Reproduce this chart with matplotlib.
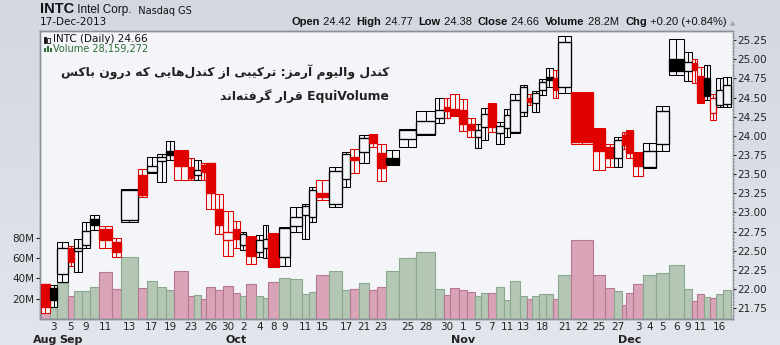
import numpy as np
import matplotlib
matplotlib.use('Agg')
import matplotlib.pyplot as plt
from matplotlib.patches import Rectangle

# Data (INTC daily, CandleVolume)
#------------------------------------------------
dates = ['2013-08-30',
         '2013-09-03', '2013-09-04', '2013-09-05', '2013-09-06', '2013-09-09', '2013-09-10',
         '2013-09-11', '2013-09-12', '2013-09-13', '2013-09-16', '2013-09-17', '2013-09-18',
         '2013-09-19', '2013-09-20', '2013-09-23', '2013-09-24', '2013-09-25', '2013-09-26',
         '2013-09-27', '2013-09-30',
         '2013-10-01', '2013-10-02', '2013-10-03', '2013-10-04', '2013-10-07', '2013-10-08',
         '2013-10-09', '2013-10-10', '2013-10-11', '2013-10-14', '2013-10-15', '2013-10-16',
         '2013-10-17', '2013-10-18', '2013-10-21', '2013-10-22', '2013-10-23', '2013-10-24',
         '2013-10-25', '2013-10-28', '2013-10-29', '2013-10-30', '2013-10-31',
         '2013-11-01', '2013-11-04', '2013-11-05', '2013-11-06', '2013-11-07', '2013-11-08',
         '2013-11-11', '2013-11-12', '2013-11-13', '2013-11-14', '2013-11-15', '2013-11-18',
         '2013-11-19', '2013-11-20', '2013-11-21', '2013-11-22', '2013-11-25', '2013-11-26',
         '2013-11-27', '2013-11-29',
         '2013-12-02', '2013-12-03', '2013-12-04', '2013-12-05', '2013-12-06', '2013-12-09',
         '2013-12-10', '2013-12-11', '2013-12-12', '2013-12-13', '2013-12-16', '2013-12-17']

opens = [22.06,
         22.02, 22.20, 22.53, 22.50, 22.57, 22.91, 22.78, 22.62, 22.90, 23.49, 23.53, 23.67,
         23.80, 23.80, 23.59, 23.49, 23.62, 23.64, 23.05, 22.64,
         22.79, 22.57, 22.68, 22.48, 22.53, 22.72, 22.42, 22.82, 22.97, 22.94, 23.26, 23.11,
         23.44, 23.73, 23.79, 24.01, 23.77, 23.71, 23.96, 24.02, 24.23, 24.37, 24.35,
         24.34, 24.15, 23.98, 24.12, 24.42, 24.04, 24.10, 24.05, 24.31, 24.49, 24.43, 24.60,
         24.77, 24.75, 24.64, 24.56, 24.09, 23.86, 23.71, 24.01,
         24.06, 23.77, 23.59, 23.89, 25.00, 24.84, 24.95, 24.78, 24.75, 24.30, 24.40, 24.42]

highs = [22.07,
         22.05, 22.61, 22.56, 22.66, 22.87, 22.97, 22.82, 22.67, 23.31, 23.57, 23.73, 23.76,
         23.93, 23.81, 23.71, 23.69, 23.65, 23.65, 23.24, 23.02,
         22.89, 22.74, 22.69, 22.70, 22.84, 22.73, 22.81, 23.07, 23.11, 23.33, 23.43, 23.59,
         23.79, 23.83, 24.01, 24.03, 23.89, 23.81, 24.09, 24.32, 24.49, 24.49, 24.54,
         24.48, 24.23, 24.16, 24.36, 24.43, 24.18, 24.35, 24.54, 24.66, 24.54, 24.59, 24.74,
         24.89, 24.86, 25.30, 24.57, 24.10, 23.90, 23.98, 24.05,
         24.07, 23.79, 23.91, 24.39, 25.26, 25.09, 25.00, 24.90, 24.92, 24.54, 24.75, 24.77]

lows = [21.69,
        21.76, 22.09, 22.30, 22.22, 22.53, 22.77, 22.54, 22.42, 22.88, 23.20, 23.51, 23.40,
        23.68, 23.42, 23.43, 23.43, 23.43, 23.04, 22.72, 22.43,
        22.53, 22.51, 22.33, 22.42, 22.40, 22.29, 22.30, 22.75, 22.66, 22.87, 23.16, 23.07,
        23.33, 23.52, 23.65, 23.85, 23.41, 23.62, 23.86, 24.01, 24.17, 24.23, 24.26,
        24.06, 23.99, 23.84, 23.95, 24.05, 23.90, 23.99, 24.04, 24.26, 24.40, 24.31, 24.53,
        24.64, 24.50, 24.56, 23.90, 23.56, 23.59, 23.59, 23.83,
        23.71, 23.47, 23.58, 23.80, 24.79, 24.72, 24.69, 24.43, 24.47, 24.21, 24.38, 24.38]

closes = [21.77,
          21.86, 22.53, 22.35, 22.53, 22.76, 22.83, 22.64, 22.49, 23.29, 23.23, 23.61, 23.72,
          23.75, 23.60, 23.45, 23.55, 23.53, 23.25, 22.83, 22.74,
          22.66, 22.72, 22.43, 22.64, 22.66, 22.30, 22.80, 22.94, 23.08, 23.29, 23.20, 23.54,
          23.76, 23.68, 23.97, 23.91, 23.58, 23.63, 24.08, 24.19, 24.34, 24.32, 24.27,
          24.15, 24.07, 24.08, 24.29, 24.12, 24.13, 24.27, 24.47, 24.64, 24.44, 24.56, 24.70,
          24.73, 24.60, 25.23, 23.92, 23.80, 23.71, 23.95, 23.88,
          23.77, 23.60, 23.80, 24.32, 24.85, 24.97, 24.86, 24.44, 24.52, 24.49, 24.60, 24.66]

# daily volume, millions of shares
volumes = [34.0,
           24.0, 35.8, 22.7, 27.6, 27.6, 31.2, 46.3, 29.2, 60.8, 30.2, 37.0, 31.2,
           28.2, 47.0, 22.3, 23.3, 19.4, 31.2, 28.2, 32.2,
           25.3, 22.3, 34.2, 22.3, 20.4, 36.5, 40.0, 39.0, 24.3, 26.3, 43.3, 47.0,
           28.2, 29.2, 35.2, 28.2, 31.2, 47.2, 59.8, 65.7, 29.2, 23.3, 30.2,
           28.2, 26.3, 22.3, 25.3, 25.3, 31.2, 18.4, 37.1, 22.5, 19.4, 22.3, 24.3,
           24.3, 19.4, 43.3, 77.5, 43.3, 30.2, 27.6, 13.5,
           25.6, 34.5, 43.3, 45.3, 53.2, 29.2, 17.7, 24.3, 21.4, 20.4, 24.3, 28.2]

prev_close_aug29 = 22.10

# day labels that are printed under the volume bars
tick_dates = ['2013-09-03', '2013-09-05', '2013-09-09', '2013-09-11', '2013-09-13', '2013-09-17',
              '2013-09-19', '2013-09-23', '2013-09-26', '2013-09-30', '2013-10-02', '2013-10-04',
              '2013-10-08', '2013-10-09', '2013-10-11', '2013-10-15', '2013-10-17', '2013-10-21',
              '2013-10-23', '2013-10-25', '2013-10-28', '2013-10-30', '2013-11-01', '2013-11-05',
              '2013-11-07', '2013-11-11', '2013-11-13', '2013-11-18', '2013-11-21', '2013-11-22',
              '2013-11-25', '2013-11-27', '2013-12-03', '2013-12-04', '2013-12-05', '2013-12-06',
              '2013-12-09', '2013-12-11', '2013-12-16']
month_labels = ['Aug', 'Sep', 'Oct', 'Nov', 'Dec']
month_dates = ['2013-08-30', '2013-09-05', '2013-10-01', '2013-11-01', '2013-12-02']

price_ticks = [21.75, 22.00, 22.25, 22.50, 22.75, 23.00, 23.25, 23.50, 23.75,
               24.00, 24.25, 24.50, 24.75, 25.00, 25.25]
vol_ticks = [20, 40, 60, 80]

title_fa_1 = 'کندل والیوم آرمز: ترکیبی از کندل\u200cهایی که درون باکس'
title_fa_2 = 'قرار گرفته\u200cاند'
title_en_2 = 'EquiVolume'
#------------------------------------------------

# minimal Persian shaping (matplotlib has no bidi / joining support)
forms = {
    '\u0627': ('\uFE8D', '\uFE8E', None, None),
    '\u0622': ('\uFE81', '\uFE82', None, None),
    '\u0628': ('\uFE8F', '\uFE90', '\uFE91', '\uFE92'),
    '\u062A': ('\uFE95', '\uFE96', '\uFE97', '\uFE98'),
    '\u062F': ('\uFEA9', '\uFEAA', None, None),
    '\u0631': ('\uFEAD', '\uFEAE', None, None),
    '\u0632': ('\uFEAF', '\uFEB0', None, None),
    '\u0633': ('\uFEB1', '\uFEB2', '\uFEB3', '\uFEB4'),
    '\u0641': ('\uFED1', '\uFED2', '\uFED3', '\uFED4'),
    '\u0642': ('\uFED5', '\uFED6', '\uFED7', '\uFED8'),
    '\u0644': ('\uFEDD', '\uFEDE', '\uFEDF', '\uFEE0'),
    '\u0645': ('\uFEE1', '\uFEE2', '\uFEE3', '\uFEE4'),
    '\u0646': ('\uFEE5', '\uFEE6', '\uFEE7', '\uFEE8'),
    '\u0647': ('\uFEE9', '\uFEEA', '\uFEEB', '\uFEEC'),
    '\u0648': ('\uFEED', '\uFEEE', None, None),
    '\u06A9': ('\uFB8E', '\uFB8F', '\uFB90', '\uFB91'),
    '\u06AF': ('\uFB92', '\uFB93', '\uFB94', '\uFB95'),
    '\u06CC': ('\uFBFC', '\uFBFD', '\uFBFE', '\uFBFF'),
}


def shape_fa(s):
    out = []
    for i, ch in enumerate(s):
        if ch not in forms:
            out.append(ch)
            continue
        iso, fin, ini, med = forms[ch]
        prev = s[i - 1] if i > 0 else ''
        nxt = s[i + 1] if i + 1 < len(s) else ''
        jp = prev in forms and forms[prev][2] is not None
        jn = nxt in forms and ini is not None
        if jp and jn:
            out.append(med)
        elif jp:
            out.append(fin)
        elif jn:
            out.append(ini)
        else:
            out.append(iso)
    return ''.join(ch for ch in out if ch != '\u200c')[::-1]


# colours
RED = '#e00000'
BLACK = '#000000'
PLOT_BG = '#f4f5f9'
VOL_UP, VOL_UP_EDGE = '#b3c7b4', '#8ba78d'
VOL_DN, VOL_DN_EDGE = '#d9a4b8', '#b57a92'
LW = 0.75

o = np.array(opens); h = np.array(highs); l = np.array(lows)
c = np.array(closes); v = np.array(volumes)
prev_c = np.concatenate([[prev_close_aug29], c[:-1]])
left = np.concatenate([[0], np.cumsum(v)[:-1]])
centers = left + v / 2
idx = {d: i for i, d in enumerate(dates)}

fig = plt.figure(figsize=(7.8, 3.45), dpi=100)

# grey gradient backdrop
bg = fig.add_axes([0, 0, 1, 1], zorder=-10)
grad = np.linspace(0, 1, 256).reshape(-1, 1)
bg.imshow(grad, aspect='auto', cmap=matplotlib.colors.LinearSegmentedColormap.from_list(
    'g', ['#e2e5ec', '#d3d7e0']), extent=[0, 1, 0, 1], origin='lower')
bg.axis('off')

ax_v = fig.add_axes([0.0515, 0.0755, 0.888, 0.835])
ax_v.set_facecolor(PLOT_BG)
ax_p = ax_v.twinx()

# volume bars
up = c >= prev_c
ax_v.bar(left, v, width=v, align='edge',
         color=np.where(up, VOL_UP, VOL_DN),
         edgecolor=np.where(up, VOL_UP_EDGE, VOL_DN_EDGE), linewidth=0.8, zorder=2)
ax_v.set_ylim(0, 284)
ax_v.set_xlim(-1.5, left[-1] + v[-1] + 5)

# candles: box = high/low range, centre line = wick, body = open/close
for i in range(len(dates)):
    col = RED if c[i] < prev_c[i] else BLACK
    filled = c[i] < o[i]
    ax_p.add_patch(Rectangle((left[i], l[i]), v[i], h[i] - l[i], facecolor=PLOT_BG,
                             edgecolor=col, linewidth=LW, zorder=3))
    ax_p.vlines(centers[i], l[i], h[i], color=col, linewidth=LW, zorder=4)
    lo, hi = min(o[i], c[i]), max(o[i], c[i])
    ax_p.add_patch(Rectangle((left[i], lo), v[i], max(hi - lo, 0.006),
                             facecolor=col if filled else PLOT_BG,
                             edgecolor=col, linewidth=LW + 0.2, zorder=5))
ax_p.set_ylim(21.61, 25.37)

# axes styling
ax_p.set_yticks(price_ticks)
ax_p.set_yticklabels(['%.2f' % p for p in price_ticks])
ax_p.tick_params(axis='y', length=2, pad=1, labelsize=7.5, colors='#222222')
ax_v.set_yticks(vol_ticks)
ax_v.set_yticklabels(['%dM' % t for t in vol_ticks])
ax_v.tick_params(axis='y', length=3, pad=1, labelsize=7.5, colors='#222222')
ax_v.set_xticks([centers[idx[d]] for d in tick_dates])
ax_v.set_xticklabels([str(int(d[-2:])) for d in tick_dates])
ax_v.tick_params(axis='x', length=0, pad=2, labelsize=7.5, colors='#222222')
for lab, d in zip(month_labels, month_dates):
    ax_v.text(centers[idx[d]], -0.055, lab, transform=ax_v.get_xaxis_transform(),
              ha='center', va='top', fontsize=8, fontweight='bold', color='#222222')
for a in (ax_v, ax_p):
    for s in a.spines.values():
        s.set_color('#8a8f99')
        s.set_linewidth(1.0)
    a.spines['right'].set_linestyle((0, (1, 1.5)))

# header
hfont = 'Liberation Sans'
t = fig.text(40 / 780, 1 - 16 / 345, 'INTC', fontsize=10.5, fontweight='bold',
             family=hfont, va='bottom', color='#111111')
t = ax_v.annotate(' Intel Corp.', xy=(1, 0), xycoords=t, va='bottom', fontsize=8.5,
                  family=hfont, color='#111111', annotation_clip=False)
ax_v.annotate('  Nasdaq GS', xy=(1, 0), xycoords=t, va='bottom', fontsize=7,
              family='DejaVu Sans', color='#111111', annotation_clip=False)
fig.text(40 / 780, 1 - 27 / 345, '17-Dec-2013', fontsize=7.5, family='DejaVu Sans',
         va='bottom', color='#111111')

parts = [('Open', True), (' 24.42  ', False), ('High', True), (' 24.77  ', False),
         ('Low', True), (' 24.38  ', False), ('Close', True), (' 24.66  ', False),
         ('Volume', True), (' 28.2M  ', False), ('Chg', True), (' +0.20 (+0.84%) ', False)]
t = fig.text(291 / 780, 1 - 27 / 345, parts[0][0], fontsize=8, fontweight='bold',
             family=hfont, va='bottom', color='#111111')
for txt, bold in parts[1:]:
    t = ax_v.annotate(txt, xy=(1, 0), xycoords=t, va='bottom', fontsize=8,
                      fontweight='bold' if bold else 'normal', family=hfont,
                      color='#111111', annotation_clip=False)
ax_v.annotate('\u25b2', xy=(1, 0.1), xycoords=t, va='bottom', fontsize=5,
              color='#a0a4ac', annotation_clip=False)

# legend lines inside the plot, with tiny icons
ax_v.text(0.019, 0.99, 'INTC (Daily) 24.66', transform=ax_v.transAxes, fontsize=7.5,
          family='DejaVu Sans', va='top', color='#111111')
ax_v.text(0.019, 0.955, 'Volume 28,159,272', transform=ax_v.transAxes, fontsize=7,
          family='DejaVu Sans', va='top', color='#2f6e35')
for k, (x0, hh, fc) in enumerate([(0.005, 0.022, '#111111'), (0.010, 0.018, 'none')]):
    ax_v.add_patch(Rectangle((x0, 0.958), 0.0035, hh, transform=ax_v.transAxes,
                             facecolor=fc, edgecolor='#111111', linewidth=0.6, zorder=6))
for x0, hh in [(0.005, 0.014), (0.0095, 0.022), (0.014, 0.017)]:
    ax_v.add_patch(Rectangle((x0, 0.925), 0.0035, hh, transform=ax_v.transAxes,
                             facecolor='#2f6e35', edgecolor='none', zorder=6))

# persian annotation
fa_kw = dict(transform=fig.transFigure, ha='right', va='center', fontsize=8.9,
             fontweight='bold', family=['DejaVu Sans'], color='#222222')
fig.text(389 / 780, 1 - 72 / 345, shape_fa(title_fa_1), **fa_kw)
fig.text(389 / 780, 1 - 96 / 345, shape_fa(title_fa_2) + ' ' + title_en_2, **fa_kw)

fig.savefig('out.png', dpi=100)
